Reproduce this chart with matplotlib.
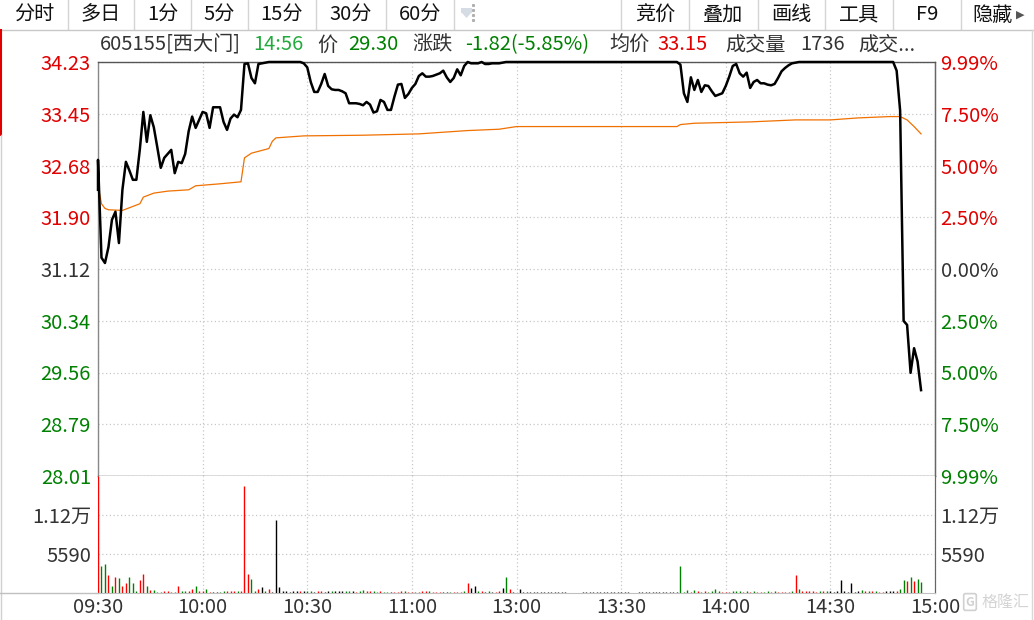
import numpy as np
import matplotlib
matplotlib.use("Agg")
import matplotlib.pyplot as plt
from matplotlib.patches import Rectangle, Polygon
from matplotlib.lines import Line2D

plt.rcParams["font.family"] = ["Noto Sans CJK SC", "DejaVu Sans"]

# 分时价格: 分钟序号(0 = 09:30, 120 = 13:00) 与价格
price_min = [0, 0, 1, 2, 3, 4, 5, 6, 7, 8, 9,
             10, 11, 12, 13, 14, 15, 16, 17, 18, 19,
             20, 21, 22, 23, 24, 25, 26, 27, 28, 29,
             30, 31, 32, 33, 34, 35, 36, 37, 38, 39,
             40, 41, 42, 43, 44, 45, 46, 47, 48, 49,
             58, 59, 60, 61, 62, 63, 64, 65, 66, 67, 68, 69,
             70, 71, 72, 73, 74, 75, 76, 77, 78, 79,
             80, 81, 82, 83, 84, 85, 86, 87, 88, 89,
             90, 91, 92, 93, 94, 95, 96, 97, 98, 99,
             100, 101, 102, 103, 104, 105, 106, 107, 108, 109,
             110, 111, 112, 113, 114, 115, 116, 117,
             166, 167, 168, 169, 170, 171, 172, 173, 174, 175, 176, 177, 178, 179,
             180, 181, 182, 183, 184, 185, 186, 187, 188, 189,
             190, 191, 192, 193, 194, 195, 196, 197, 198, 199,
             200, 201, 228, 229, 230, 231, 232, 233, 234, 235, 236]
price_val = [32.31, 32.76, 31.29, 31.21, 31.45, 31.86, 31.98, 31.51, 32.31, 32.73, 32.60,
             32.46, 32.46, 32.92, 33.48, 33.03, 33.43, 33.25, 32.95, 32.64, 32.79,
             32.85, 32.91, 32.56, 32.73, 32.71, 32.85, 33.19, 33.41, 33.24, 33.36,
             33.48, 33.46, 33.24, 33.55, 33.55, 33.55, 33.33, 33.21, 33.38, 33.44,
             33.40, 33.51, 34.20, 34.21, 33.99, 33.91, 34.20, 34.21, 34.22, 34.23,
             34.23, 34.21, 34.15, 33.93, 33.78, 33.78, 33.90, 34.05, 33.87, 33.82, 33.81, 33.81,
             33.79, 33.76, 33.61, 33.61, 33.61, 33.60, 33.58, 33.63, 33.59, 33.47,
             33.49, 33.66, 33.63, 33.51, 33.51, 33.71, 33.89, 33.90, 33.69, 33.75,
             33.84, 33.90, 34.02, 34.06, 34.01, 34.01, 34.02, 34.04, 34.06, 34.10,
             34.00, 33.93, 33.99, 34.12, 34.03, 34.17, 34.23, 34.21, 34.21, 34.21,
             34.23, 34.20, 34.20, 34.21, 34.21, 34.21, 34.22, 34.23,
             34.23, 34.19, 33.76, 33.63, 34.00, 33.81, 33.96, 33.78, 33.88, 33.87, 33.79, 33.72, 33.74, 33.76,
             33.87, 34.01, 34.17, 34.20, 34.06, 34.01, 34.07, 33.84, 33.93, 33.96,
             33.91, 33.91, 33.89, 33.88, 33.90, 33.99, 34.09, 34.14, 34.18, 34.21,
             34.22, 34.23, 34.23, 34.10, 33.50, 30.34, 30.28, 29.56, 29.93, 29.73, 29.30]

# 均价线
avg_min = [0, 1, 2, 3, 7, 9, 12, 13, 16, 20, 26, 28, 35, 41, 42, 44, 49, 50, 51, 59,
           76, 84, 92, 106, 115, 120, 166, 167, 171, 187, 200, 210, 218, 227, 230,
           232, 234, 236]
avg_val = [32.38, 32.10, 32.03, 32.01, 32.00, 32.04, 32.10, 32.20, 32.26, 32.29, 32.31,
           32.37, 32.40, 32.43, 32.79, 32.86, 32.93, 33.04, 33.09, 33.12,
           33.13, 33.14, 33.15, 33.20, 33.22, 33.26, 33.26, 33.29, 33.31, 33.33, 33.36,
           33.36, 33.39, 33.41, 33.41, 33.36, 33.26, 33.15]

# 每分钟成交量 (手) 与颜色: r 涨, g 跌, k 平
vol_val = [16700, 3870, 4150, 2580, 1000, 2340, 2100, 1000, 1390, 2250,
           1390, 330, 1860, 2720, 1000, 430, 430, 200, 150, 290,
           290, 200, 150, 1000, 290, 290, 330, 620, 1000, 330,
           290, 570, 150, 150, 150, 150, 250, 290, 290, 290,
           250, 250, 15340, 2720, 2000, 250, 570, 860, 250, 570,
           150, 10470, 860, 290, 290, 150, 250, 290, 290, 290,
           290, 290, 150, 290, 290, 150, 290, 290, 290, 290,
           290, 290, 290, 290, 200, 290, 430, 290, 290, 290,
           150, 290, 150, 150, 150, 150, 150, 330, 290, 150,
           150, 150, 150, 290, 290, 290, 150, 150, 150, 150,
           150, 150, 150, 150, 150, 290, 1390, 720, 1000, 290,
           290, 150, 290, 150, 150, 290, 720, 2250, 570, 150,
           0, 570, 150, 150, 150, 150, 150, 150, 150, 150,
           150, 150, 150, 150, 150, 0, 0, 0, 0, 150,
           150, 150, 150, 150, 150, 150, 150, 150, 150, 150,
           150, 150, 150, 0, 0, 150, 150, 150, 150, 150,
           150, 150, 150, 150, 150, 150, 150, 3870, 150, 430,
           150, 430, 290, 150, 290, 150, 290, 570, 290, 150,
           150, 150, 290, 290, 290, 150, 290, 150, 290, 150,
           150, 150, 290, 150, 290, 150, 150, 150, 150, 290,
           2580, 570, 290, 290, 290, 290, 150, 290, 290, 290,
           290, 150, 290, 1860, 290, 150, 1390, 150, 290, 430,
           290, 290, 290, 290, 150, 150, 290, 290, 290, 290,
           570, 1860, 1790, 2290, 1790, 2000, 1580]
vol_col = ("rggrgrgrrg" "ggrrgrgggr" "rrgrggrrgr" "rgrkkggrrr" "grrrggrkgr"
           "kkkkkkkkrk" "ggkrrkkgkk" "kggkrggrrg" "grggkrrrgr" "rgrrrgrrrk"
           "kgrrrgrkkg" "rkgkrrkgrk" "kkkkkkkkkk" "kkkkkkkkkk" "kkkkkkkkkk"
           "kkkkkkkkkk" "kkkkkkkggg" "rgrgrggggr" "rrgggrgrgr" "rggrgrrrrg"
           "rgrrrrrgrg" "kkkkkkkkkg" "rgrgrrkkkr" "ggrgrgg")

price_labels = ["34.23", "33.45", "32.68", "31.90", "31.12", "30.34", "29.56", "28.79", "28.01"]
pct_labels = ["9.99%", "7.50%", "5.00%", "2.50%", "0.00%", "2.50%", "5.00%", "7.50%", "9.99%"]
label_sign = [1, 1, 1, 1, 0, -1, -1, -1, -1]
vol_ticks = [5590, 11180]
vol_labels = ["5590", "1.12万"]
time_labels = ["09:30", "10:00", "10:30", "11:00", "13:00", "13:30", "14:00", "14:30", "15:00"]
toolbar_left = ["分时", "多日", "1分", "5分", "15分", "30分", "60分"]
toolbar_right = ["竞价", "叠加", "画线", "工具", "F9", "隐藏"]
title_texts = ["605155[西大门]", "14:56", "价", "29.30", "涨跌", "-1.82(-5.85%)",
               "均价", "33.15", "成交量", "1736", "成交..."]

RED = "#e00000"
GREEN = "#008000"
DARK = "#333333"
GRID = "#c8c8c8"
FS = 14.5
W, H = 1034, 620


def fx(x):
    return x / W


def fy(y):
    return 1 - y / H


def sign_color(s):
    return {1: RED, 0: DARK, -1: GREEN}[s]


fig = plt.figure(figsize=(W / 100, H / 100), dpi=100)
fig.patch.set_facecolor("white")

# ---- 工具栏 ----
sep_left = [0, 68, 134, 191, 248, 316, 386, 454]
sep_right = [621, 689, 758, 825, 893, 961, 1034]
for x in sep_left[1:] + sep_right[:-1]:
    fig.add_artist(Line2D([fx(x), fx(x)], [fy(0), fy(29)], color="#d4d4d4", lw=1))
fig.add_artist(Line2D([0, 1], [fy(29.5), fy(29.5)], color="#c8c8c8", lw=1))
for i, t in enumerate(toolbar_left):
    fig.text(fx((sep_left[i] + sep_left[i + 1]) / 2), fy(15), t, ha="center", va="center",
             fontsize=FS, color="#111111")
for i, t in enumerate(toolbar_right):
    cx = (sep_right[i] + sep_right[i + 1]) / 2
    if t == "隐藏":
        cx = 993
    fig.text(fx(cx), fy(15), t, ha="center", va="center", fontsize=FS, color="#111111")
fig.text(fx(1016), fy(15), "▶", ha="left", va="center", fontsize=8, color="#555555",
         family="DejaVu Sans")
# 小图标
fig.add_artist(Rectangle((fx(461), fy(13)), 11 / W, 5 / H, color="#d6dce4", lw=0))
fig.add_artist(Polygon([(fx(462), fy(13)), (fx(471), fy(13)), (fx(466.5), fy(18))],
                       closed=True, color="#d6dce4", lw=0))
for yy in [5, 10, 15, 20]:
    fig.add_artist(Line2D([fx(473)], [fy(yy)], marker="s", ms=1.2, color="#b0b0b0", lw=0))

# 左侧红线
fig.add_artist(Line2D([fx(1), fx(1)], [fy(30), fy(135)], color="#e00000", lw=1.5))
fig.add_artist(Line2D([fx(0.5), fx(0.5)], [fy(135), fy(620)], color="#d0d0d0", lw=1))
fig.add_artist(Line2D([fx(1032), fx(1032)], [fy(30), fy(620)], color="#d8d8d8", lw=1))

# ---- 标题行 ----
title_x = [100, 253, 317, 348, 412, 465, 609, 657, 725, 800, 858]
title_c = [DARK, "#22aa3c", DARK, GREEN, DARK, GREEN, DARK, RED, DARK, DARK, DARK]
for x, t, c in zip(title_x, title_texts, title_c):
    fig.text(fx(x), fy(45), t, ha="left", va="center", fontsize=FS, color=c)

# ---- 价格区 ----
x0, x1 = 98, 935
ax = fig.add_axes([fx(x0), fy(476), (x1 - x0) / W, (476 - 62) / H])
axv = fig.add_axes([fx(x0), fy(593), (x1 - x0) / W, (593 - 476) / H], sharex=ax)

ax.plot(avg_min, avg_val, color="#f07000", lw=0.9, zorder=2)
ax.plot(price_min, price_val, color="black", lw=1.8, zorder=3, clip_on=False)
ax.set_xlim(0, 240)
ax.set_ylim(28.01, 34.23)
yt = np.linspace(34.23, 28.01, 9)
ax.set_yticks(yt)
ax.set_yticklabels(price_labels, fontsize=FS)
for lbl, s in zip(ax.get_yticklabels(), label_sign):
    lbl.set_color(sign_color(s))
ax.tick_params(axis="y", length=0, pad=5)
ax.tick_params(axis="x", length=0, labelbottom=False)
ax.set_xticks(np.arange(0, 241, 30))
ax.grid(True, color=GRID, linestyle=(0, (1, 2)), lw=0.9)

sec = ax.secondary_yaxis("right")
sec.set_yticks(yt)
sec.set_yticklabels(pct_labels, fontsize=FS)
for lbl, s in zip(sec.get_yticklabels(), label_sign):
    lbl.set_color(sign_color(s))
sec.tick_params(length=0, pad=4)
sec.spines["right"].set_color("#666666")

for k, c in [("top", "#555555"), ("bottom", "#555555"), ("left", "#888888"), ("right", "#666666")]:
    ax.spines[k].set_color(c)
    ax.spines[k].set_linewidth(1)

# ---- 成交量 ----
mins = np.arange(len(vol_val))
cmap = {"r": "#ff0000", "g": GREEN, "k": "#000000"}
axv.vlines(mins, 0, vol_val, colors=[cmap[c] for c in vol_col], lw=1.0, zorder=3)
axv.set_ylim(0, 16770)
axv.set_yticks(vol_ticks)
axv.set_yticklabels(vol_labels, fontsize=FS, color=DARK)
axv.tick_params(axis="y", length=0, pad=5)
axv.set_xticks(np.arange(0, 241, 30))
axv.set_xticklabels(time_labels, fontsize=FS, color=DARK)
axv.tick_params(axis="x", length=0, pad=3)
axv.grid(True, color=GRID, linestyle=(0, (1, 2)), lw=0.9)

secv = axv.secondary_yaxis("right")
secv.set_yticks(vol_ticks)
secv.set_yticklabels(vol_labels, fontsize=FS, color=DARK)
secv.tick_params(length=0, pad=4)
secv.spines["right"].set_color("#666666")

axv.spines["top"].set_visible(False)
axv.spines["bottom"].set_color("#c0c0c0")
axv.spines["left"].set_color("#888888")
axv.spines["right"].set_color("#666666")
fig.add_artist(Line2D([0, fx(x0)], [fy(593), fy(593)], color="#c0c0c0", lw=1))

# ---- 水印 ----
fig.text(fx(970), fy(602), "G", ha="center", va="center", fontsize=9, color="#d0d0d0",
         fontweight="bold",
         bbox=dict(boxstyle="round,pad=0.15", fc="none", ec="#d0d0d0", lw=1.2))
fig.text(fx(982), fy(602), "格隆汇", ha="left", va="center", fontsize=11.5, color="#d4d4d4")

fig.savefig("out.png", dpi=100, facecolor="white")
